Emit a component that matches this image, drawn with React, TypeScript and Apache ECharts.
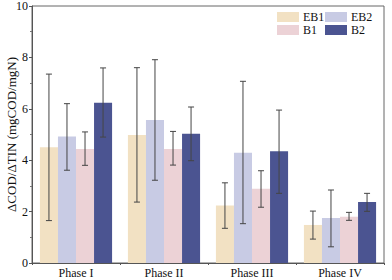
import React, { useEffect, useRef } from "react";
import * as echarts from "echarts";

const categories = ["Phase I", "Phase II", "Phase III", "Phase IV"];
const seriesNames = ["EB1", "EB2", "B1", "B2"];
const eb1 = [4.5, 4.98, 2.24, 1.48];
const eb2 = [4.92, 5.56, 4.29, 1.75];
const b1 = [4.44, 4.44, 2.89, 1.8];
const b2 = [6.24, 5.03, 4.35, 2.37];
const eb1Low = [1.65, 2.37, 1.35, 0.93];
const eb1High = [7.35, 7.6, 3.12, 2.02];
const eb2Low = [3.61, 3.22, 1.53, 0.63];
const eb2High = [6.2, 7.91, 7.07, 2.84];
const b1Low = [3.8, 3.81, 2.17, 1.66];
const b1High = [5.1, 5.12, 3.59, 1.97];
const b2Low = [4.9, 3.98, 2.71, 2.01];
const b2High = [7.59, 6.07, 5.95, 2.71];
const yTicks = [0, 2, 4, 6, 8, 10];

const colors = ["#f2e1c3", "#c8cbe4", "#ecd2d6", "#4b5491"];
const FONT = "Liberation Serif";

export default function App() {
  const ref = useRef<HTMLDivElement>(null);
  useEffect(() => {
    if (!ref.current) return;
    const chart = echarts.init(ref.current, null, { renderer: "svg" });
    const values = [eb1, eb2, b1, b2];
    const lows = [eb1Low, eb2Low, b1Low, b2Low];
    const highs = [eb1High, eb2High, b1High, b2High];
    const gapRatio = 0.18;

    const barSeries = seriesNames.map((name, i) => ({
      name,
      type: "bar",
      data: values[i],
      barGap: "0%",
      barCategoryGap: "18%",
      itemStyle: { color: colors[i] },
      z: 2,
    }));

    const errSeries = seriesNames.map((name, i) => ({
      name: name + "-err",
      type: "custom",
      data: categories.map((_, k) => [k, lows[i][k], highs[i][k]]),
      z: 5,
      renderItem: (params: any, api: any) => {
        const k = api.value(0);
        const lo = api.coord([k, api.value(1)]);
        const hi = api.coord([k, api.value(2)]);
        const catW = api.size([1, 0])[0];
        const barW = (catW * (1 - gapRatio)) / 4;
        const x = lo[0] + (i - 1.5) * barW;
        const cap = 3;
        const style = { stroke: "#454545", lineWidth: 1 };
        return {
          type: "group",
          children: [
            { type: "line", shape: { x1: x, y1: lo[1], x2: x, y2: hi[1] }, style },
            { type: "line", shape: { x1: x - cap, y1: hi[1], x2: x + cap, y2: hi[1] }, style },
            { type: "line", shape: { x1: x - cap, y1: lo[1], x2: x + cap, y2: lo[1] }, style },
          ],
        };
      },
    }));

    const legendCommon = {
      itemWidth: 22,
      itemHeight: 10,
      itemGap: 1,
      padding: 0,
      orient: "vertical",
      textStyle: { fontFamily: FONT, fontSize: 12, color: "#111", padding: [0, 0, 0, -1] },
      icon: "rect",
    };

    chart.setOption({
      animation: false,
      textStyle: { fontFamily: FONT },
      grid: {
        left: 32,
        right: 8,
        top: 6,
        bottom: 17,
        outerBoundsMode: "none",
        containLabel: false,
        show: true,
        borderColor: "#666",
        borderWidth: 1,
      },
      legend: [
        { ...legendCommon, data: ["EB1", "B1"], left: 277, top: 11 },
        { ...legendCommon, data: ["EB2", "B2"], left: 325, top: 11 },
      ],
      xAxis: [
        {
          type: "category",
          data: categories,
          axisLine: { lineStyle: { color: "#555" } },
          axisTick: { alignWithLabel: true, length: 3, lineStyle: { color: "#555" } },
          axisLabel: { fontFamily: FONT, fontSize: 12, color: "#111", margin: 4 },
        },
        {
          type: "category",
          data: categories,
          position: "bottom",
          axisLine: { show: false },
          axisTick: { show: true, length: 2, lineStyle: { color: "#555" } },
          axisLabel: { show: false },
        },
      ],
      yAxis: {
        type: "value",
        min: yTicks[0],
        max: yTicks[yTicks.length - 1],
        interval: 2,
        name: "ΔCOD/ΔTIN (mgCOD/mgN)",
        nameLocation: "middle",
        nameGap: 14,
        nameMoveOverlap: false,
        nameTextStyle: { fontFamily: FONT, fontSize: 13, color: "#111" },
        axisLine: { show: true, lineStyle: { color: "#555" } },
        axisTick: { show: true, length: 3, lineStyle: { color: "#555" } },
        minorTick: { show: true, splitNumber: 2, length: 2, lineStyle: { color: "#777" } },
        splitLine: { show: false },
        axisLabel: { fontFamily: FONT, fontSize: 12, color: "#111", margin: 4 },
      },
      series: [...barSeries, ...errSeries],
    });
    return () => chart.dispose();
  }, []);
  return <div ref={ref} style={{ width: 392, height: 280, position: "absolute", left: 0, top: 0 }} />;
}
